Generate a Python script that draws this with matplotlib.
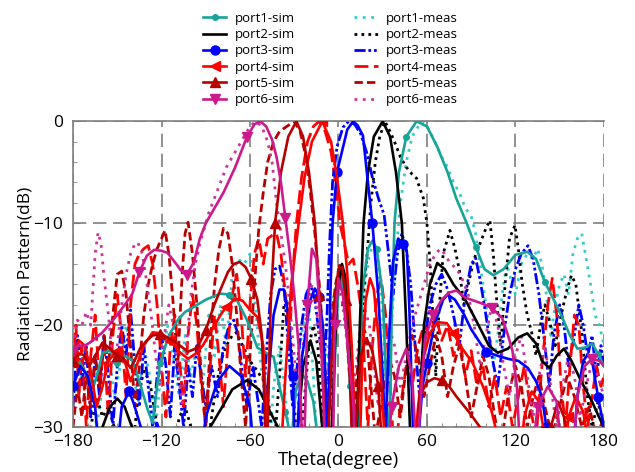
import matplotlib
matplotlib.use("Agg")
import matplotlib.pyplot as plt

plt.rcParams['font.family'] = ['Open Sans', 'DejaVu Sans']

## simulated patterns, (theta in degree, level in dB)
## values below -30 are nulls that fall off the bottom of the axes
p1_sim = [(-180,-23),(-176,-23.5),(-170,-25),(-166,-26),(-163,-24.5),(-160,-22.7),(-155,-22.5),(-150,-23.7),
          (-145,-23),(-140,-23.4),(-135,-25.5),(-130,-28),(-126,-29.6),(-123,-26),(-121,-23.7),(-115,-21),
          (-109,-19.5),(-104,-18.7),(-98,-18.2),(-90,-17.5),(-80,-16.9),(-74,-17),(-69,-17.5),(-62,-19.5),
          (-55,-22.2),(-48,-22.8),(-44,-23.1),(-40,-26),(-36,-28.5),(-33,-30.5),(-31,-30),(-29,-26.5),
          (-25,-24.8),(-21,-25.5),(-17,-27.5),(-14.5,-30.5),(-12,-34),(-5,-34),(-2,-22),(0,-16.5),(2,-15.3),
          (5,-18),(8,-26),(10,-31),(12,-34),(13.5,-30),(16,-17),(20,-12.5),(23,-11.7),(26,-12.5),(30,-17),
          (33,-28),(34.5,-33),(36,-20),(38,-10),(41,-5),(46,-1.5),(53,0),(60,-0.5),(67,-2.5),(74,-5),
          (80,-7.6),(87,-10),(93,-12.3),(99,-14.5),(105,-15.1),(112,-14.5),(120,-13.1),(128,-12.8),
          (134,-13.5),(140,-15.8),(146,-17.5),(151,-19),(157,-21),(162,-22.3),(167,-22.2),(172,-21.8),
          (176,-22.8),(180,-24)]
p2_sim = [(-180,-35),(-163,-35),(-160,-30),(-155,-28),(-150,-27.2),(-145,-28),(-140,-30),(-137,-35),
          (-90,-35),(-87,-30),(-80,-28.3),(-72,-26.3),(-62,-25.4),(-54,-26.3),(-47,-28.3),(-41,-30),
          (-38,-35),(-30,-35),(-27.5,-30),(-24,-24),(-19,-21.5),(-15,-23.5),(-11,-30),(-9,-35),(-6,-35),
          (-4,-28),(-1,-17),(2.4,-14),(5,-15.5),(8,-21),(10,-28),(11.5,-35),(12.5,-30),(14.5,-20),(17,-10),
          (20,-5),(24,-1.5),(30,0),(35,-1.5),(39,-5),(43,-10),(46,-20),(48.5,-30),(51,-35),(54,-30),
          (58,-20),(62,-16),(67,-13.9),(72,-14.5),(78,-16),(86,-17.5),(95,-20),(102,-22),(108,-22.7),
          (115,-22.3),(122,-21.2),(128,-20.8),(134,-21.8),(138,-23.5),(143,-24.2),(148,-23),(153,-22.3),
          (158,-23.5),(165,-25.6),(172,-27.5),(176,-28.8),(180,-30)]
p3_sim = [(-180,-26),(-175,-24),(-170,-25),(-165,-28),(-161,-35),(-152,-35),(-147,-28),(-142,-26.5),
          (-139,-27.6),(-134,-30),(-130,-35),(-126,-31),(-123,-29.6),(-120,-31),(-116,-35),(-95,-35),
          (-90,-29),(-82,-25.5),(-74,-24),(-66,-25),(-60,-28),(-56,-35),(-51,-35),(-48,-26),(-44,-19),
          (-40,-16.5),(-37,-16.5),(-34,-19),(-31,-25),(-29,-35),(-27,-28),(-24.7,-23.1),(-22,-20.5),
          (-19,-17.5),(-16,-16.4),(-13,-17.2),(-10.5,-20.2),(-8.5,-26),(-7.5,-34),(-6.5,-28),(-5.5,-17),
          (-4,-10),(-1,-5),(3,-2.6),(6,-0.8),(10,0),(13,-0.4),(16.6,-1.4),(20,-6),(23,-10),(27,-17),
          (30,-25),(32,-31),(34,-22),(37,-13.8),(40.5,-11.5),(43.5,-12),(46.4,-12.8),(48,-18),(50.5,-30),
          (53,-35),(55,-29.6),(57,-26),(60,-23.7),(65,-20),(71,-17.5),(74,-17),(79,-17.5),(85,-18.9),
          (90,-20.4),(100,-22.6),(108,-23),(115,-23.3),(122,-23.5),(128.5,-24.2),(134,-25.5),(138,-27),
          (141,-30),(144,-35),(158,-35),(162,-27),(166,-23.5),(169,-22.9),(172,-23.5),(176,-27),(180,-30)]
p4_sim = [(-180,-23),(-176,-21.5),(-172,-22),(-168,-24.5),(-164,-28),(-160,-26),(-156,-23.5),(-150,-22.5),
          (-145,-23.5),(-141,-25.5),(-137,-24),(-132,-22),(-126,-20.7),(-120,-20.8),(-114,-21.5),
          (-108,-22.6),(-102,-23.3),(-97,-22.8),(-92,-22),(-86,-20.5),(-80,-19),(-76,-18.2),(-70,-17.4),
          (-65,-17.6),(-60,-18.5),(-55,-19.2),(-51,-22),(-48.5,-30),(-46,-35),(-40,-35),(-36,-25),
          (-32,-16),(-27,-10),(-23,-5.5),(-18,-2),(-11,0),(-5,-2),(-1,-5.5),(3,-10),(6,-15),(9,-22),
          (12,-32),(14,-35),(16,-24),(18.5,-17.5),(21.4,-15.4),(24,-16.5),(27,-21),(30,-28),(33,-35),
          (50,-35),(54,-28),(58,-23),(62,-20.8),(67,-19.7),(73.5,-19.8),(78,-20.8),(84,-22.3),(91,-23.7),
          (98,-26),(104,-28.5),(108,-31),(112,-35),(122,-35),(126,-29),(131,-26.5),(136,-27.5),(140,-31),
          (143,-35),(152,-35),(156,-29),(161,-27),(166,-28.5),(170,-32),(173,-35),(180,-35)]
p5_sim = [(-180,-23.5),(-176,-22.8),(-173,-22.9),(-169,-24),(-165,-23),(-160,-21.7),(-155,-22.3),
          (-150,-23),(-146,-23.2),(-141,-24.2),(-138,-23.4),(-134.6,-22.3),(-130,-21.5),(-126,-21),
          (-121,-20.9),(-116,-21.2),(-111,-21.6),(-107.5,-22),(-102,-22.6),(-97,-22.3),(-94,-21.7),
          (-90,-20.5),(-85,-18.3),(-80,-16.5),(-75,-14.8),(-71,-14),(-67,-13.8),(-63,-14.3),(-59,-15.5),
          (-55,-17.5),(-52,-21),(-50,-28),(-49,-35),(-48,-30),(-46,-18),(-43,-10),(-39,-5),(-34,-1.5),
          (-28.5,0),(-24,-1.5),(-20,-5),(-16,-10),(-13,-17),(-10,-27),(-8.5,-35),(-6,-28),(-3,-18),
          (0,-14.5),(2.5,-14.3),(5,-17.5),(8,-26),(10,-35),(12,-30),(15,-23),(19,-21.3),(23,-22.5),
          (27,-26),(30,-33),(32,-35),(52,-35),(55,-27),(60,-25.6),(65,-25.2),(70,-25.4),(75,-26),
          (80,-27),(89,-28.6),(96,-30),(100,-35),(140,-35),(144,-30),(148.8,-27.5),(153,-29),(157,-35),
          (180,-35)]
p6_sim = [(-180,-22.5),(-177,-22),(-172,-22),(-168.5,-21.7),(-160,-20.7),(-150,-19),(-140,-17),
          (-135,-14.8),(-130,-13.2),(-125,-12.6),(-120,-12.7),(-116,-12.9),(-111,-13.8),(-107,-14.6),
          (-103,-15.1),(-98,-13.8),(-94,-11.5),(-90,-10),(-84,-8.5),(-78,-7),(-70,-4.5),(-62,-1.5),
          (-57,-0.3),(-53,0),(-49,-0.5),(-45,-1.8),(-42,-3.5),(-39,-6),(-36,-9.5),(-33,-13),(-30,-17),
          (-27,-22),(-25,-30),(-24,-35),(-22.5,-28),(-21,-18),(-18,-12.5),(-15,-13.5),(-12,-20),(-10,-28),
          (-9,-35),(-4,-35),(-2.5,-20),(0,-15.4),(3,-17),(7,-23),(10,-27.5),(12,-35),(32,-35),(36,-28),
          (41,-24),(46,-22.3),(50,-25),(53,-33),(55,-29),(58.7,-21.3),(64,-19),(70,-17.5),(75,-16.8),
          (80,-16.6),(86,-17.3),(92,-17.6),(98,-17.9),(104,-18.3),(111,-19.3),(115,-21),(118,-22.5),
          (121,-26),(124,-35),(130,-35),(135,-28),(142,-26),(148,-27.5),(153,-35),(158,-35),(162,-27),
          (167,-24),(172,-23.3),(177,-23.5),(180,-24)]

## measured patterns
p1_meas = [(-180,-24),(-176,-27),(-172,-22),(-168,-25),(-164,-30),(-160,-26),(-156,-22),(-152,-27),
           (-148,-24),(-144,-20),(-140,-23),(-136,-28),(-132,-22),(-128,-25),(-124,-30),(-120,-24),
           (-116,-20),(-112,-23),(-108,-27),(-104,-21),(-100,-25),(-96,-22),(-92,-26),(-88,-19),(-84,-23),
           (-80,-18),(-76,-22),(-72,-15),(-68,-13.5),(-64,-14),(-60,-13),(-57,-17),(-54,-22),(-50,-27),
           (-47,-33),(-44,-26),(-40,-22),(-36,-27),(-32,-33),(-28,-24),(-24,-20),(-20,-18),(-17,-25),
           (-14,-33),(-10,-27),(-6,-20),(-3,-17),(0,-15),(3,-16),(6,-20),(9,-28),(12,-33),(15,-22),
           (18,-16),(21,-13),(24,-12),(27,-14),(30,-19),(33,-27),(36,-20),(39,-13),(42,-8),(46,-4),
           (50,-1.5),(55,-0.3),(58,0),(62,-1),(66,-2.2),(70,-3.5),(74,-4.5),(78,-6),(82,-7),(86,-8.5),
           (90,-9.3),(93,-11),(96,-14),(99,-17),(102,-20),(105,-24),(108,-21),(111,-17),(114,-14),
           (117,-15.5),(120,-17),(124,-14),(128,-13),(132,-13.5),(135,-12.5),(138,-14),(141,-17),(144,-21),
           (147,-18),(150,-16),(153,-15),(156,-17),(159,-13),(162,-11.5),(165,-11),(168,-13.5),(171,-16),
           (174,-19),(177,-20),(180,-22)]
p2_meas = [(-180,-33),(-172,-33),(-168,-30),(-164,-27),(-160,-29),(-156,-28),(-152,-30),(-148,-33),
           (-140,-33),(-136,-27),(-132,-24.5),(-128,-25.5),(-124,-29),(-120,-33),(-112,-33),(-108,-29),
           (-104,-28),(-100,-30),(-95,-33),(-88,-31),(-84,-27),(-80,-23.6),(-76,-22),(-72,-21),(-69,-20.7),
           (-65,-22),(-60,-23.5),(-55,-24.5),(-50,-25.6),(-47,-28),(-44,-33),(-40,-25),(-37,-18),
           (-35,-17.4),(-32,-22),(-29,-30),(-27,-33),(-23,-27),(-20,-22),(-17,-20),(-14,-22),(-11,-29),
           (-9,-33),(-5,-26),(-2,-18),(1,-14),(4,-15),(7,-21),(10,-29),(12,-33),(14,-25),(17,-17),(20,-12),
           (22,-8),(25,-4),(28,-1.5),(31.5,0),(35,-1),(38,-2),(42,-3.5),(46,-4.5),(50,-5.2),(53,-5.6),
           (55,-6.5),(57.5,-7.5),(60,-10),(62,-13.6),(64,-19),(66,-25),(68,-19),(71,-13),(75.6,-10.7),
           (79,-12.5),(82,-14.6),(85,-18),(88,-16),(92,-13.5),(96,-12),(100,-10.5),(102.7,-9.7),(105,-13),
           (107,-17),(110,-22),(113,-16),(116,-11.5),(119.7,-10.2),(122,-12.5),(124.5,-15.8),(128,-19),
           (131,-20.7),(134,-23),(137,-20),(140,-18),(143,-19.5),(147,-22),(151,-19),(155,-16.5),
           (158,-15.1),(161,-16),(165,-20.7),(169,-27.2),(172,-30),(176,-27.5),(180,-30)]
p3_meas = [(-180,-28),(-177,-21),(-174,-26),(-171,-22),(-168,-29),(-165,-23),(-162,-27),(-159,-21),
           (-156,-25),(-153,-30),(-150,-24),(-147,-20),(-144,-23),(-141,-18.5),(-138,-24),(-135,-28),
           (-132,-22),(-129,-26),(-126,-30),(-123,-25),(-120,-21),(-117,-24),(-114,-29),(-111,-22),
           (-108,-26),(-105,-30),(-102,-24),(-99,-27),(-96,-22),(-93,-25),(-90,-28),(-86,-24),(-82,-27),
           (-78,-22),(-74,-20),(-71,-19.5),(-68,-21),(-65,-25),(-62,-28),(-58,-24),(-55,-27),(-52,-30),
           (-49,-23),(-46,-17),(-43,-14.5),(-40,-14.2),(-37,-16),(-34,-22),(-31,-28),(-28,-24),(-25,-20),
           (-22,-17),(-19,-16),(-16,-17.5),(-13,-21),(-10,-24),(-8,-20),(-6,-12),(-4,-6),(-1,-2.5),
           (3,-0.6),(7,0),(11,-0.3),(15,-1.2),(19,-3),(23,-5.5),(27,-7.5),(31,-9.2),(34,-13),(37,-17),
           (40,-13),(43,-11),(46,-12.5),(49,-16),(52,-22),(55,-27),(58,-22),(62,-18),(66,-16),(70,-15),
           (74,-16.5),(78,-19),(82,-22),(86,-17),(90,-14),(93,-13.4),(96,-15.5),(100,-19),(104,-23),
           (108,-26),(112,-21),(116,-17),(120,-14.5),(124,-13),(128.5,-12.2),(132,-13.5),(136,-17),
           (140,-22),(143,-26),(146,-21),(150,-18),(153,-20),(156,-24),(160,-21),(163,-18),(166,-20),
           (169,-23),(172,-21),(175,-25),(178,-22),(180,-24)]
p4_meas = [(-180,-24),(-178,-20),(-176,-27),(-174,-22),(-171,-30),(-168,-23),(-165,-19),(-162,-26),
           (-159,-22),(-156,-29),(-153,-21),(-150,-17),(-147,-21),(-144,-27),(-141,-18),(-138,-14),
           (-135,-13),(-132,-12.5),(-129,-12.2),(-126,-14),(-123,-18),(-120,-24),(-117,-29),(-114,-22),
           (-111,-19),(-108,-23),(-105,-28),(-102,-21),(-99,-17),(-96,-20),(-93,-26),(-90,-30),(-87,-24),
           (-84,-19),(-81,-23),(-78,-28),(-75,-22),(-72,-17),(-69,-15),(-66,-19),(-63,-25),(-60,-18),
           (-57,-13),(-54,-11.5),(-51,-14),(-48,-11.5),(-45,-11.2),(-42,-11),(-39,-13),(-36,-17),(-33,-21),
           (-31,-15),(-28.5,-10),(-25,-5.5),(-21,-2),(-17,-0.5),(-13,0),(-9,-1),(-5,-3),(-2,-6),(1,-10),
           (4,-12),(7,-14),(10,-13.5),(13,-16),(16,-19),(18,-25),(20,-30),(23,-22),(26,-17),(29,-15.5),
           (32,-19),(35,-26),(38,-33),(42,-28),(46,-24),(50,-26),(54,-22),(58,-20),(62,-21),(66,-19),
           (70,-21.5),(74,-20),(78,-23),(82,-21),(86,-25),(90,-22.5),(94,-26),(98,-24),(102,-28),(106,-25),
           (110,-29),(114,-26),(118,-30),(122,-27),(126,-24),(130,-28),(134,-31),(138,-24),(142,-18),
           (145,-15.4),(148,-19),(151,-26),(154,-30),(157,-24),(160,-19),(163,-20),(166,-26),(169,-30),
           (172,-27),(175,-24),(178,-26),(180,-25)]
p5_meas = [(-180,-30),(-177,-26),(-174,-29),(-171,-25),(-168,-28),(-165,-23),(-162,-26),(-159,-21),
           (-156,-24),(-153,-19),(-150,-15),(-147,-14.7),(-144,-17),(-141,-22),(-138,-28),(-135,-24),
           (-132,-19),(-129,-16),(-126,-14),(-123,-12.5),(-120,-11.5),(-117.6,-10.7),(-115,-13),(-112,-18),
           (-109,-24),(-106,-15),(-104,-11),(-102,-9.9),(-99,-13),(-96,-18),(-93,-25),(-90,-30),(-87,-22),
           (-84,-16),(-81,-12.5),(-78,-10.5),(-75,-11),(-72,-14),(-69,-19),(-66,-25),(-63,-30),(-60,-23),
           (-57,-16),(-54,-10.5),(-51,-7),(-48,-4),(-44,-2),(-40,-1),(-35,-0.5),(-30,0),(-26,-1),
           (-22,-3.5),(-19,-7),(-16,-11),(-13,-16),(-10,-22),(-8,-28),(-5,-20),(-2,-16),(1,-14),(4,-17),
           (7,-24),(10,-30),(13,-24),(16,-20),(19,-21),(22,-26),(25,-31),(30,-27),(34,-23),(38,-25),
           (42,-29),(46,-24),(50,-21),(54,-23),(58,-27),(62,-24),(66,-21),(70,-23),(74,-27),(78,-24),
           (82,-22),(86,-25),(90,-29),(94,-26),(98,-23),(102,-25),(106,-29),(110,-32),(115,-27),(120,-24),
           (124,-26),(128,-30),(132,-27),(136,-25),(140,-28),(145,-31),(150,-28),(155,-25),(160,-27),
           (165,-30),(170,-28),(175,-31),(180,-29)]
p6_meas = [(-180,-22),(-177,-19.5),(-174,-20),(-171,-18.7),(-168,-20),(-165,-13),(-163,-10.9),(-161,-12),
           (-159,-15.3),(-156,-19),(-153,-24),(-150,-22),(-147,-18),(-144,-15),(-141,-13),(-138,-12),
           (-136,-11.9),(-133,-13),(-130,-15.8),(-127,-19),(-124,-23),(-121,-26),(-118,-21),(-115,-18),
           (-112,-20),(-109,-24),(-106,-28),(-103,-22),(-100,-17),(-97,-14),(-94,-12),(-91,-10.5),(-88,-9),
           (-84,-7.5),(-80,-6),(-76,-4.5),(-72,-3.5),(-68,-2.5),(-64,-1.5),(-60,-0.5),(-56,0),(-52,-0.5),
           (-48,-2),(-45,-4),(-42,-8),(-39,-11),(-36,-14),(-33,-18),(-30,-23),(-27,-28),(-24,-22),(-21,-18),
           (-18,-16),(-15,-18),(-12,-23),(-9,-28),(-6,-22),(-3,-18),(0,-16),(3,-18),(6,-22),(9,-27),
           (12,-24),(15,-20),(18,-18.5),(21,-20),(24,-24),(27,-28),(30,-24),(34,-20),(38,-22),(42,-26),
           (46,-23),(50,-20),(54,-18),(58,-16),(62,-14),(66,-13),(69,-12.5),(72,-13),(76,-14),(80,-14.4),
           (84,-15.5),(88,-17),(92,-20),(96,-24),(100,-21),(104,-18),(108,-20),(112,-24),(116,-27),
           (120,-23),(124,-21),(128,-25),(132,-29),(136,-25),(140,-22),(144,-26),(148,-30),(152,-26),
           (156,-23),(160,-25),(164,-29),(168,-26),(172,-23.5),(176,-25),(180,-27)]

sim_series = [p1_sim, p2_sim, p3_sim, p4_sim, p5_sim, p6_sim]
meas_series = [p1_meas, p2_meas, p3_meas, p4_meas, p5_meas, p6_meas]
sim_labels = ['port1-sim', 'port2-sim', 'port3-sim', 'port4-sim', 'port5-sim', 'port6-sim']
meas_labels = ['port1-meas', 'port2-meas', 'port3-meas', 'port4-meas', 'port5-meas', 'port6-meas']
x_ticks = [-180, -120, -60, 0, 60, 120, 180]
y_ticks = [-30, -20, -10, 0]

## styles
sim_colors = ['#17a398', 'black', '#0000ff', '#ff0000', '#b80000', '#cc1a8c']
sim_markers = ['o', None, 'o', '<', '^', 'v']
sim_msize = [4, 0, 6.5, 6.5, 6.5, 6.5]
meas_colors = ['#33cccc', 'black', '#0000ff', '#ff0000', '#b80000', '#cc3399']
meas_dashes = [(1, 2), (1, 1.5), (4, 1, 1, 1, 1, 1), (5, 2), (3, 1.5), (1, 2)]

fig = plt.figure(figsize=(6.35, 4.72), dpi=100)
ax = fig.add_axes([0.115, 0.095, 0.836, 0.648])

handles = []
for data, lab, c, m, ms in zip(sim_series, sim_labels, sim_colors, sim_markers, sim_msize):
    th, db = zip(*data)
    h, = ax.plot(th, db, color=c, lw=1.9, marker=m, ms=ms, markevery=7, label=lab, zorder=3)
    handles.append(h)
for data, lab, c, d in zip(meas_series, meas_labels, meas_colors, meas_dashes):
    th, db = zip(*data)
    h, = ax.plot(th, db, color=c, lw=2.0, dashes=d, label=lab, zorder=2)
    handles.append(h)

ax.set_xlim(-180, 180)
ax.set_ylim(-30, 0)
ax.set_xticks(x_ticks)
ax.set_yticks(y_ticks)
ax.set_xticks(range(-180, 181, 10), minor=True)
ax.set_yticks(range(-30, 1, 2), minor=True)
ax.tick_params(which='both', direction='in', colors='#7f7f7f', labelcolor='black', labelsize=12.5)
ax.tick_params(which='major', length=5)
ax.tick_params(which='minor', length=3)
ax.tick_params(axis='x', pad=5)
ax.tick_params(axis='y', pad=7)
ax.grid(True, which='major', color='#7f7f7f', lw=1.2, dashes=(8, 4))
for s in ['left', 'bottom', 'top']:
    ax.spines[s].set_color('#7f7f7f')
    ax.spines[s].set_linewidth(1.2)
ax.spines['right'].set_visible(False)

ax.set_xlabel('Theta(degree)', fontsize=13.5, labelpad=1)
ax.set_ylabel('Radiation Pattern(dB)', fontsize=12.5, labelpad=0)

fig.legend(handles=handles, ncol=2, loc='upper center', bbox_to_anchor=(0.52, 1.0),
           frameon=False, fontsize=9.5, labelspacing=0.25, columnspacing=4.5,
           handlelength=1.8, handletextpad=0.6)

fig.savefig('out.png', dpi=100)
